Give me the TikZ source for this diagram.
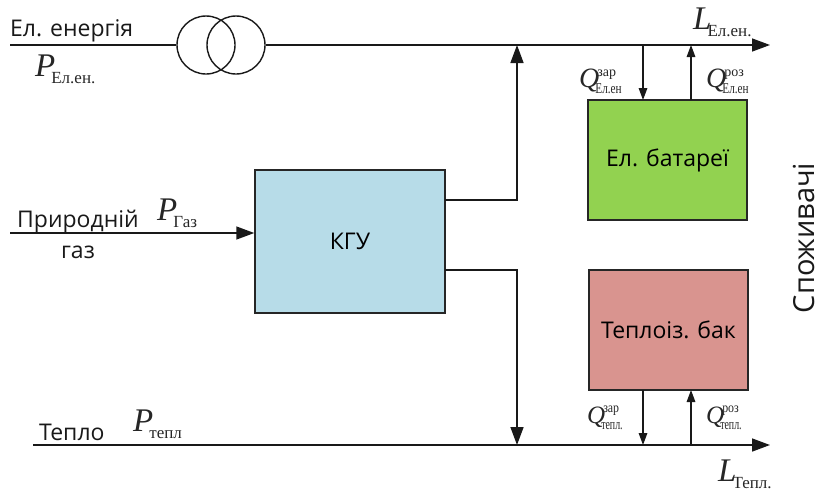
\documentclass[tikz,border=0pt]{standalone}
\usepackage{graphicx}
\usepackage{fontspec}
\setmainfont{Open Sans}
\newfontfamily\mathser{Liberation Serif}
\usetikzlibrary{arrows.meta}
\tikzset{
  flow/.style={line width=1.5pt,draw=black!90},
  arr/.style={flow,-{Triangle[length=18pt,width=13pt]}},
  arrs/.style={flow,-{Triangle[length=12pt,width=8.5pt]}},
  unit/.style={draw=black!85,line width=1.5pt,minimum width=#1,inner sep=0pt,font=\fontsize{23}{26}\selectfont},
  txt/.style={inner sep=0pt,font=\fontsize{23}{26}\selectfont,text=black!90},
  sym/.style={inner sep=0pt,text=black!85,font=\mathser},
  coil/.style={draw=black!90,line width=1.4pt,circle,minimum size=58pt,inner sep=0pt}
}
\newcommand{\symP}[2]{{\fontsize{33}{33}\selectfont\itshape #1}\hspace{-4pt}\raisebox{-7pt}{\fontsize{17}{17}\selectfont #2}}
% #1 size of Q, #2 superscript, #3 its horizontal scale, #4 subscript, #5 its horizontal scale
\newcommand{\symQ}[5]{{\fontsize{#1}{#1}\selectfont\itshape Q}\hspace{-4pt}\rlap{\hspace{2pt}\raisebox{11pt}{\fontsize{14}{14}\selectfont\scalebox{#3}[1]{#2}}}\raisebox{-6pt}{\fontsize{15}{15}\selectfont\scalebox{#5}[1]{#4}}}
\begin{document}
\begin{tikzpicture}[x=1pt,y=-1pt]
\useasboundingbox (0,0) rectangle (821,490);
% boxes
\node[unit=190pt,minimum height=143pt,fill={rgb,255:red,183;green,220;blue,232}] (kgu) at (350,241.5) {КГУ};
\node[unit=159pt,minimum height=120pt,fill={rgb,255:red,146;green,210;blue,80}] (bat) at (667.5,160) {Ел. батареї};
\node[unit=159pt,minimum height=120pt,fill={rgb,255:red,217;green,148;blue,143}] (tank) at (668.5,330) {Теплоіз. бак};
% transformer
\node[coil] (t1) at (206,45) {};
\node[coil] (t2) at (236,45) {};
% free ends
\coordinate (eIn) at (10,45);
\coordinate (eOut) at (770,45);
\coordinate (gIn) at (10,233);
\coordinate (hIn) at (33,445);
\coordinate (hOut) at (770,445);
\coordinate (busE) at (517,45);
\coordinate (busH) at (517,445);
\coordinate (kE) at (445,200);
\coordinate (kH) at (445,270);
\coordinate (batC) at (643,100);
\coordinate (batD) at (691,100);
\coordinate (tankC) at (643,390);
\coordinate (tankD) at (691,390);
\coordinate (eC) at (643,45);
\coordinate (eD) at (691,45);
\coordinate (hC) at (643,445);
\coordinate (hD) at (691,445);
% connectors
\draw[flow] (eIn) -- (t1.west);
\draw[arr] (t2.east) -- (eOut);
\draw[arr] (gIn) -- (gIn -| kgu.west);
\draw[arr] (hIn) -- (hOut);
\draw[arr] (kE) -- (kE -| busE) -- (busE);
\draw[arr] (kH) -- (kH -| busH) -- (busH);
\draw[arrs] (eC) -- (batC);
\draw[arrs] (batD) -- (eD);
\draw[arrs] (tankC) -- (hC);
\draw[arrs] (hD) -- (tankD);
% labels
\node[txt,anchor=base west] (lE) at (10,36) {Ел. енергія};
\node[txt,anchor=base west] (lG) at (17,227) {Природній};
\node[txt,anchor=base] (lG2) at (78,258) {газ};
\node[txt,anchor=base west] (lH) at (39,440) {Тепло};
\node[txt,rotate=90,anchor=center,font=\fontsize{29}{32}\selectfont] (lC) at (804,238) {Споживачі};
\node[sym,anchor=base west] (pE) at (35,76) {\symP{P}{Ел.ен.}};
\node[sym,anchor=base west] (pG) at (157,220) {\symP{P}{Газ}};
\node[sym,anchor=base west] (pH) at (133,431) {\symP{P}{тепл}};
\node[sym,anchor=base west] (lEl) at (693,29) {\symP{L}{Ел.ен.}};
\node[sym,anchor=base west] (lT) at (718,481) {\symP{L}{Тепл.}};
\node[sym,anchor=base west] (q1) at (579,87) {\symQ{28}{зар}{1}{Ел.ен}{0.75}};
\node[sym,anchor=base west] (q2) at (706,87) {\symQ{28}{роз}{1}{Ел.ен}{0.75}};
\node[sym,anchor=base west] (q3) at (587,423) {\symQ{25}{зар}{0.85}{тепл.}{0.66}};
\node[sym,anchor=base west] (q4) at (706,423) {\symQ{25}{роз}{0.85}{тепл.}{0.66}};
\end{tikzpicture}
\end{document}
